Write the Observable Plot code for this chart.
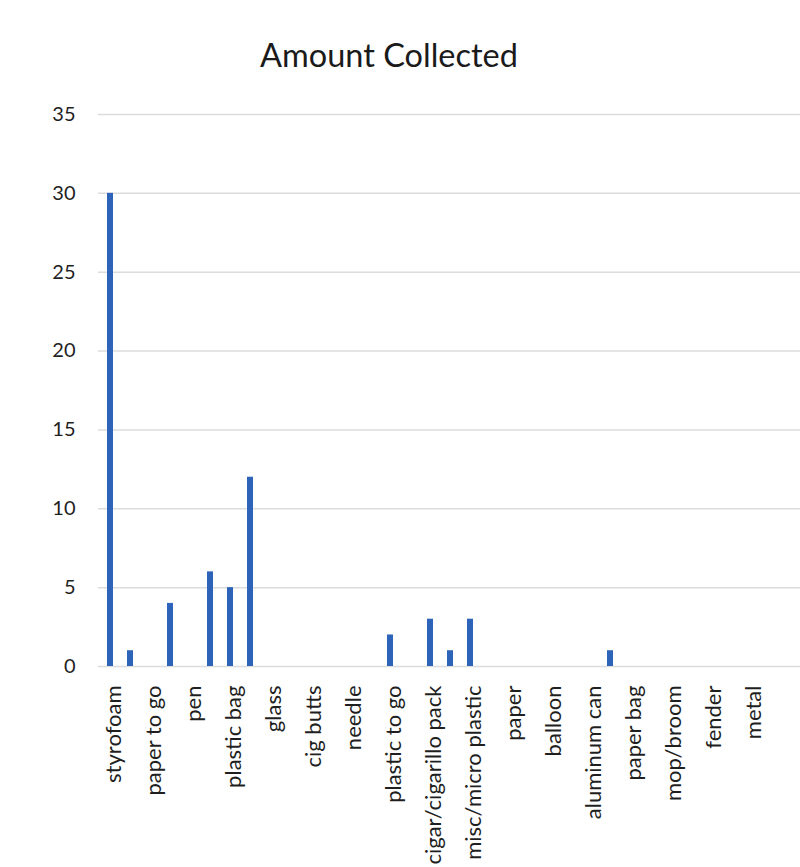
<!DOCTYPE html>
<html>
<head>
<meta charset="utf-8">
<script src="https://cdn.jsdelivr.net/npm/d3@7"></script>
<script src="https://cdn.jsdelivr.net/npm/@observablehq/plot@0.6"></script>
<style>
  body { margin: 0; background: #fff; font-family: Lato, "Open Sans", sans-serif; }
  #title { width: 778px; height: 100px; box-sizing: border-box; padding-top: 36px; line-height: 38px; text-align: center; font-size: 32.5px; color: #1a1a1a; }
</style>
</head>
<body>
<div id="title">Amount Collected</div>
<div id="chart"></div>
<script>
// Visible category labels (every other category is labelled on the axis)
const labels = ["styrofoam", "paper to go", "pen", "plastic bag", "glass", "cig butts", "needle",
  "plastic to go", "cigar/cigarillo pack", "misc/micro plastic", "paper", "balloon",
  "aluminum can", "paper bag", "mop/broom", "fender", "metal"];
// Amount per category slot (34 slots, index 0..33)
const amounts = [30, 1, 0, 4, 0, 6, 5, 12, 0, 0, 0, 0, 0, 0, 2, 0, 3, 1, 3, 0,
  0, 0, 0, 0, 0, 1, 0, 0, 0, 0, 0, 0, 0, 0];
const yTicks = [0, 5, 10, 15, 20, 25, 30, 35];

const data = amounts.map((v, i) => ({i, v}));
const labelIdx = labels.map((_, k) => k * 2);

const chart = Plot.plot({
  width: 800,
  height: 767,
  marginTop: 14,
  marginBottom: 201,
  marginLeft: 98,
  marginRight: 0,
  style: {fontFamily: "Lato, 'Open Sans', sans-serif", color: "#1f1f1f", background: "#fff"},
  x: {type: "band", domain: d3.range(amounts.length), range: [98, 782], padding: 0},
  y: {domain: [0, 35], range: [566, 14]},
  marks: [
    Plot.ruleY(yTicks, {stroke: "#dcdcdc", strokeWidth: 1.5}),
    Plot.barY(data, {x: "i", y: "v", fill: "#2d63b8", insetLeft: 7, insetRight: 7}),
    Plot.axisY(yTicks, {tickSize: 0, tickPadding: 23, fontSize: 20, label: null, fill: "#1f1f1f"}),
    Plot.axisX(labelIdx, {tickSize: 0, tickPadding: 19, tickRotate: -90, fontSize: 22, dx: 3,
      tickFormat: (i) => labels[i / 2], label: null, fill: "#1f1f1f"})
  ]
});
document.getElementById("chart").appendChild(chart);
</script>
</body>
</html>
